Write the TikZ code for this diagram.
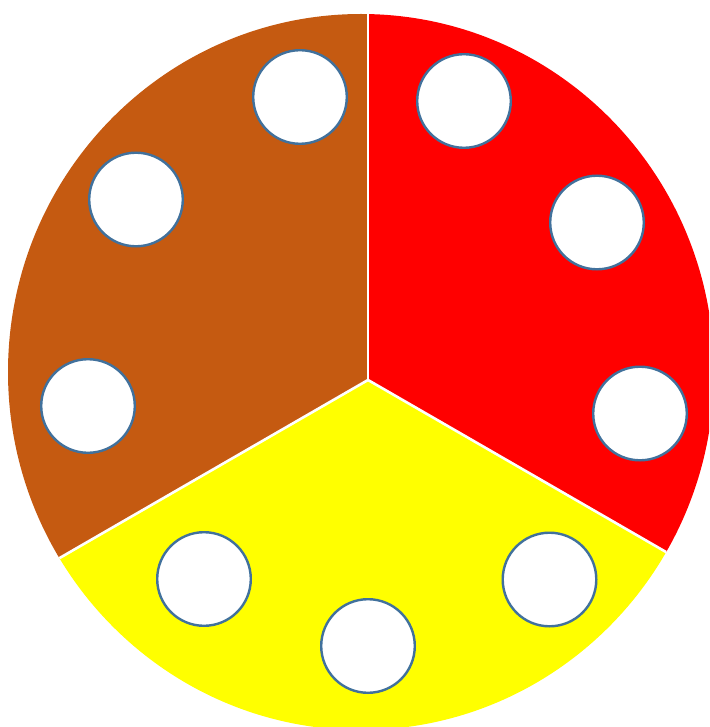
\documentclass[tikz,border=0pt]{standalone}
\definecolor{brownc}{HTML}{C55A11}
\definecolor{redc}{HTML}{FF0000}
\definecolor{yellowc}{HTML}{FFFF00}
\definecolor{ringc}{HTML}{41719C}
\begin{document}
\begin{tikzpicture}[x=1pt,y=-1pt,
  hole/.style={circle,draw=ringc,fill=white,line width=2.4pt,minimum size=93.6pt,inner sep=0pt},
  sep/.style={white,line width=2.6pt}]
\useasboundingbox (0,0) rectangle (709,727);
\coordinate (O) at (368,380);
\coordinate (EC) at (361,372);
\coordinate (Up) at (368,-420);
\coordinate (R) at (1061,780);
\coordinate (L) at (-325,780);
\begin{scope}
  \clip (0,0) rectangle (709,727);
  \clip (EC) ellipse [x radius=353, y radius=358];
  \fill[redc] (O) -- (Up) -- (1061,-420) -- (R) -- cycle;
  \fill[brownc] (O) -- (Up) -- (-325,-420) -- (L) -- cycle;
  \fill[yellowc] (O) -- (L) -- (-325,1200) -- (1061,1200) -- (R) -- cycle;
  \draw[sep] (O) -- (Up);
  \draw[sep] (O) -- (R);
  \draw[sep] (O) -- (L);
\end{scope}
% brown sector holes
\node[hole] (b1) at (300,97) {};
\node[hole] (b2) at (136,199.5) {};
\node[hole] (b3) at (88,406) {};
% red sector holes
\node[hole] (r1) at (464,101) {};
\node[hole] (r2) at (597,222.5) {};
\node[hole] (r3) at (640,413.5) {};
% yellow sector holes
\node[hole] (y1) at (204,579) {};
\node[hole] (y2) at (368,646) {};
\node[hole] (y3) at (549.5,579.5) {};
\end{tikzpicture}
\end{document}
